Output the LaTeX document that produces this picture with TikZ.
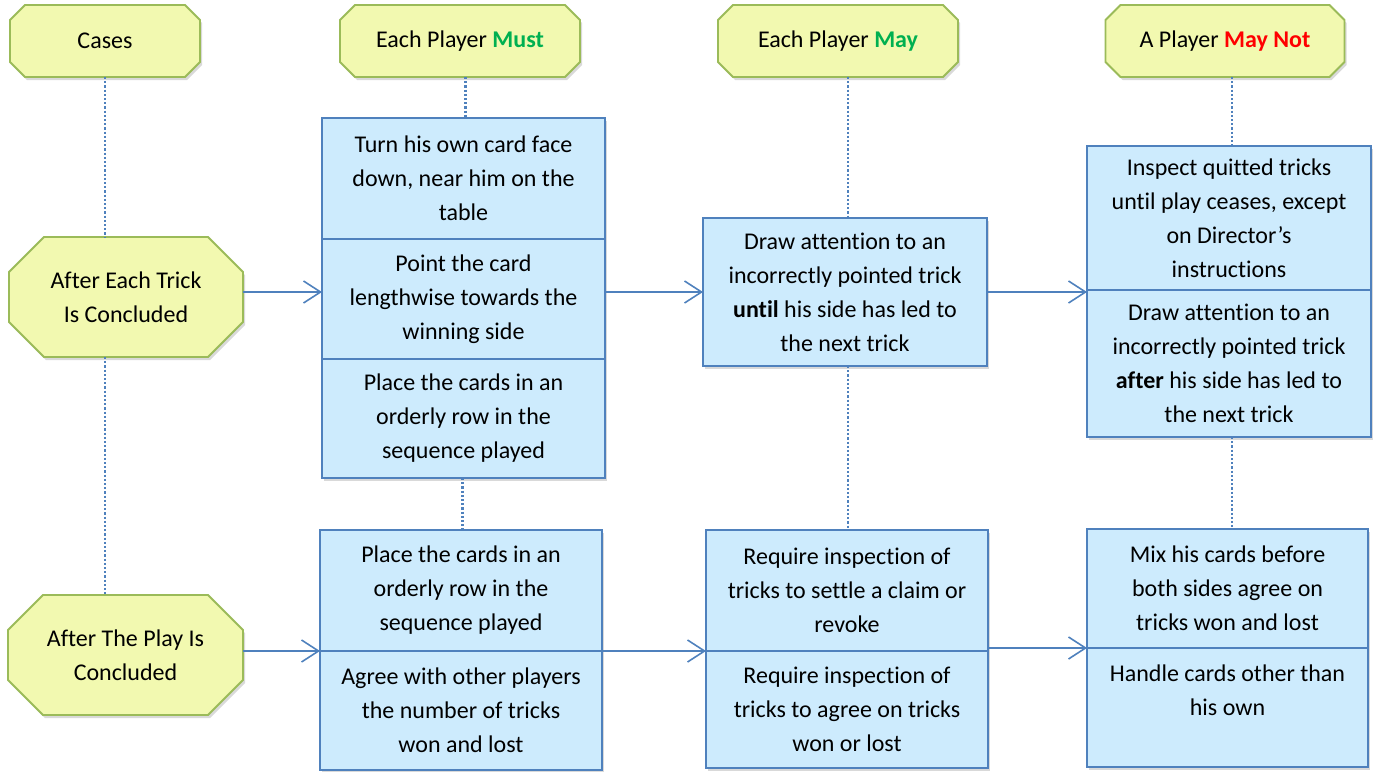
\documentclass[tikz,border=0pt]{standalone}
\usepackage{fontspec}
\setmainfont{Carlito}[Ligatures=NoCommon]
\usetikzlibrary{arrows.meta,shadows,backgrounds,calc}
\definecolor{yfill}{RGB}{242,249,176}
\definecolor{ydraw}{RGB}{155,187,89}
\definecolor{bfill}{RGB}{205,235,253}
\definecolor{bdraw}{RGB}{79,129,189}
\definecolor{mustgreen}{RGB}{0,176,80}
\definecolor{notred}{RGB}{255,0,0}
\newcommand\octpath[3]{([xshift=#2]#1.north west) -- ([xshift=-#2]#1.north east) -- ([yshift=-#3]#1.north east) -- ([yshift=#3]#1.south east) -- ([xshift=-#2]#1.south east) -- ([xshift=#2]#1.south west) -- ([yshift=#3]#1.south west) -- ([yshift=-#3]#1.north west) -- cycle}
\tikzset{
  txt/.style={font=\fontsize{24}{34}\selectfont, align=center, inner sep=0pt, outer sep=0pt},
  head/.style={txt, minimum width=#1, minimum height=72},
  octa/.style={txt, minimum width=#1, minimum height=120},
  octshape/.style={fill=yfill, draw=ydraw, line width=1.8pt, line join=miter,
    drop shadow={opacity=0.3, shadow xshift=2pt, shadow yshift=-3pt}},
  box/.style={txt, fill=bfill, draw=bdraw, line width=1.6pt, minimum width=#1,
    drop shadow={opacity=0.3, shadow xshift=2pt, shadow yshift=-3pt}},
  arr/.style={draw=bdraw, line width=1.6pt, -{Straight Barb[length=17pt,width=22pt]}},
  dots/.style={draw=bdraw, line width=2.4pt, dash pattern=on 2.2pt off 2pt},
}
\begin{document}
\begin{tikzpicture}[x=1pt,y=-1pt]
\useasboundingbox (0,0) rectangle (1381,771);
% headers
\node[head=190] (cases) at (105,41) {Cases};
\node[head=240] (mustH) at (460,41) {Each Player \textbf{\color{mustgreen}Must}};
\node[head=240] (mayH) at (838,41) {Each Player \textbf{\color{mustgreen}May}};
\node[head=239] (notH) at (1225,41) {A Player \textbf{\color{notred}May Not}};
% case octagons
\node[octa=234] (o1) at (126,297) {After Each Trick\\Is Concluded};
\node[octa=235] (o2) at (125.5,655) {After The Play Is\\Concluded};
\begin{scope}[on background layer]
\path[octshape] \octpath{cases}{15}{15};
\path[octshape] \octpath{mustH}{15}{15};
\path[octshape] \octpath{mayH}{15}{15};
\path[octshape] \octpath{notH}{15}{15};
\path[octshape] \octpath{o1}{35}{35};
\path[octshape] \octpath{o2}{35}{35};
\end{scope}
% Must column
\node[box=283, minimum height=121] (A) at (463.5,178.5) {Turn his own card face\\down, near him on the\\table};
\node[box=283, minimum height=120] (B) at (463.5,299) {Point the card\\lengthwise towards the\\winning side};
\node[box=283, minimum height=119] (C) at (463.5,418.5) {Place the cards in an\\orderly row in the\\sequence played};
\node[box=282, minimum height=121] (D) at (461,590.5) {Place the cards in an\\orderly row in the\\sequence played};
\node[box=282, minimum height=119] (E) at (461,710.5) {Agree with other players\\the number of tricks\\won and lost};
% May column
\node[box=284, minimum height=148] (F) at (845,292) {Draw attention to an\\incorrectly pointed trick\\\textbf{until} his side has led to\\the next trick};
\node[box=282, minimum height=121] (G) at (847,590.5) {Require inspection of\\tricks to settle a claim or\\revoke};
\node[box=282, minimum height=117] (H) at (847,709.5) {Require inspection of\\tricks to agree on tricks\\won or lost};
% May Not column
\node[box=284, minimum height=144] (I) at (1229,218) {Inspect quitted tricks\\until play ceases, except\\on Director’s\\instructions};
\node[box=284, minimum height=147] (J) at (1229,363.5) {Draw attention to an\\incorrectly pointed trick\\\textbf{after} his side has led to\\the next trick};
\node[box=281, minimum height=119] (K) at (1227.5,588.5) {Mix his cards before\\both sides agree on\\tricks won and lost};
\node[box=281, minimum height=119] (L) at (1227.5,707.5) {Handle cards other than\\his own\\\mbox{}};
% dotted links
\draw[dots] (cases.south) -- (cases.south |- o1.north);
\draw[dots] (cases.south |- o1.south) -- (cases.south |- o2.north);
\draw[dots] ([xshift=2]A.north |- mustH.south) -- ([xshift=2]A.north);
\draw[dots] ([xshift=-1]C.south) -- ([xshift=-1]C.south |- D.north);
\draw[dots] ([xshift=3]F.north |- mayH.south) -- ([xshift=3]F.north);
\draw[dots] ([xshift=3]F.south) -- ([xshift=3]F.south |- G.north);
\draw[dots] ([xshift=3]I.north |- notH.south) -- ([xshift=3]I.north);
\draw[dots] ([xshift=3]J.south) -- ([xshift=3]J.south |- K.north);
% arrows
\draw[arr] (F.west -| o1.east) -- (F.west -| B.west);
\draw[arr] (F.west -| B.east) -- (F.west);
\draw[arr] (F.east) -- (F.east -| J.west);
\draw[arr] (D.south west -| o2.east) -- (D.south west);
\draw[arr] (D.south east) -- (G.south west);
\draw[arr] (K.south west -| G.east) -- (K.south west);
\end{tikzpicture}
\end{document}
